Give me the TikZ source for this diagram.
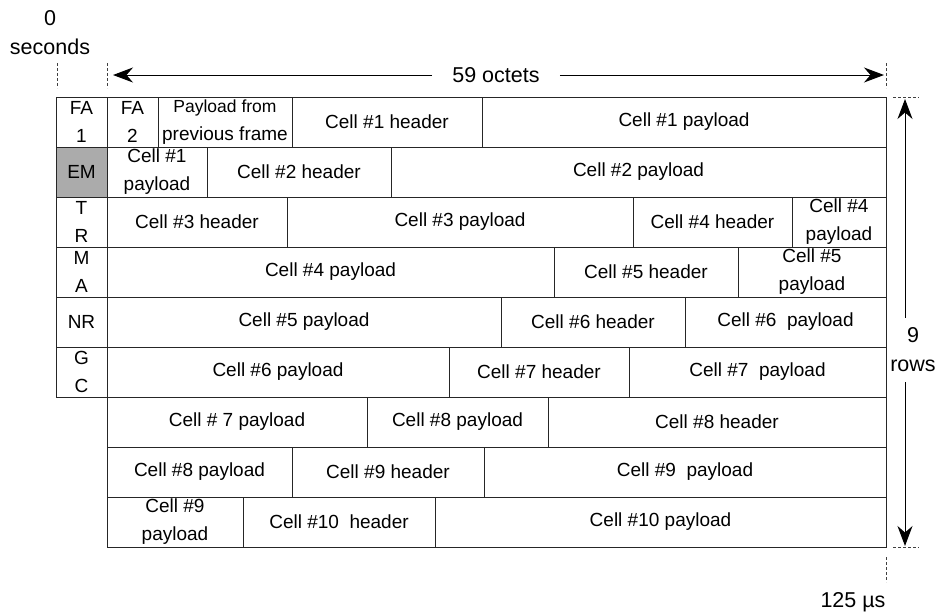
\documentclass[tikz,border=0pt]{standalone}
\usepackage{fontspec}
\setmainfont{Liberation Sans}
\usetikzlibrary{arrows.meta}
\tikzset{
  cellbox/.style={draw=black!85, line width=0.9pt, inner sep=0pt, outer sep=0pt,
    align=center, font=\fontsize{19}{28}\selectfont},
  emfill/.style={fill=black!33},
  arr/.style={line width=1pt, -{Stealth[length=20pt,width=15pt]}},
  tickline/.style={draw=black!75, line width=0.8pt, dash pattern=on 3pt off 2pt},
  lbl/.style={inner sep=0pt, align=center, font=\fontsize{21.5}{29}\selectfont}
}
\newcommand\mkcell[6][]{%
  \pgfmathsetmacro\mycw{#4-#3}%
  \pgfmathsetmacro\mycx{(#3+#4)/2}%
  \pgfmathsetmacro\mycy{97+50*#5+25}%
  \node[cellbox,#1,minimum width=\mycw pt,minimum height=50pt] (#2) at (\mycx,\mycy) {#6};}
\begin{document}
\begin{tikzpicture}[x=1pt,y=-1pt]
\useasboundingbox (0,0) rectangle (938,614);
% row 0
\mkcell{fa1}{56}{107}{0}{FA\\1}
\mkcell{fa2}{107}{158}{0}{FA\\2}
\mkcell{prev}{158}{292}{0}{\fontsize{17.5}{23}\selectfont Payload from\\previous frame}
\mkcell{c1h}{292}{482}{0}{Cell \#1 header}
\mkcell{c1p}{482}{886}{0}{Cell \#1 payload}
% row 1
\mkcell[emfill]{em}{56}{107}{1}{EM}
\mkcell{c1pb}{107}{207}{1}{Cell \#1\\payload}
\mkcell{c2h}{207}{391}{1}{Cell \#2 header}
\mkcell{c2p}{391}{886}{1}{Cell \#2 payload}
% row 2
\mkcell{tr}{56}{107}{2}{T\\R}
\mkcell{c3h}{107}{287}{2}{Cell \#3 header}
\mkcell{c3p}{287}{633}{2}{Cell \#3 payload}
\mkcell{c4h}{633}{792}{2}{Cell \#4 header}
\mkcell{c4pa}{792}{886}{2}{Cell \#4\\payload}
% row 3
\mkcell{ma}{56}{107}{3}{M\\A}
\mkcell{c4p}{107}{554}{3}{Cell \#4 payload}
\mkcell{c5h}{554}{738}{3}{Cell \#5 header}
\mkcell{c5pa}{738}{886}{3}{Cell \#5\\payload}
% row 4
\mkcell{nr}{56}{107}{4}{NR}
\mkcell{c5p}{107}{501}{4}{Cell \#5 payload}
\mkcell{c6h}{501}{685}{4}{Cell \#6 header}
\mkcell{c6pa}{685}{886}{4}{Cell \#6~ payload}
% row 5
\mkcell{gc}{56}{107}{5}{G\\C}
\mkcell{c6p}{107}{449}{5}{Cell \#6 payload}
\mkcell{c7h}{449}{629}{5}{Cell \#7 header}
\mkcell{c7pa}{629}{886}{5}{Cell \#7~ payload}
% row 6
\mkcell{c7p}{107}{367}{6}{Cell \# 7 payload}
\mkcell{c8pa}{367}{548}{6}{Cell \#8 payload}
\mkcell{c8h}{548}{886}{6}{Cell \#8 header}
% row 7
\mkcell{c8p}{107}{292}{7}{Cell \#8 payload}
\mkcell{c9h}{292}{484}{7}{Cell \#9 header}
\mkcell{c9pa}{484}{886}{7}{Cell \#9~ payload}
% row 8
\mkcell{c9p}{107}{243}{8}{Cell \#9\\payload}
\mkcell{c10h}{243}{435}{8}{Cell \#10~ header}
\mkcell{c10p}{435}{886}{8}{Cell \#10 payload}

% labels
\node[lbl] (zero) at (50,18) {0};
\node[lbl] (secs) at (50,47) {seconds};
\node[lbl, inner xsep=20pt] (octets) at (496,75) {59 octets};
\node[lbl, inner ysep=10pt] (rows) at (913,350) {9\\rows};
\node[lbl] (us) at (853,602) {125 µs};

% arrows
\coordinate (tl) at (113,75);
\coordinate (tr) at (884,75);
\draw[arr] (octets) -- (tl);
\draw[arr] (octets) -- (tr);
\coordinate (vt) at (905,99);
\coordinate (vb) at (905,546);
\draw[arr] (rows.north -| vt) -- (vt);
\draw[arr] (rows.south -| vt) -- (vb);

% ticks
\coordinate (t1a) at (57,63);  \coordinate (t1b) at (57,88);
\coordinate (t2a) at (107,63); \coordinate (t2b) at (107,88);
\coordinate (t3a) at (886,63); \coordinate (t3b) at (886,88);
\coordinate (t4a) at (893,97); \coordinate (t4b) at (919,97);
\coordinate (t5a) at (893,547); \coordinate (t5b) at (919,547);
\coordinate (t6a) at (886,557); \coordinate (t6b) at (886,582);
\draw[tickline] (t1a) -- (t1b);
\draw[tickline] (t2a) -- (t2b);
\draw[tickline] (t3a) -- (t3b);
\draw[tickline] (t4a) -- (t4b);
\draw[tickline] (t5a) -- (t5b);
\draw[tickline] (t6a) -- (t6b);
\end{tikzpicture}
\end{document}
